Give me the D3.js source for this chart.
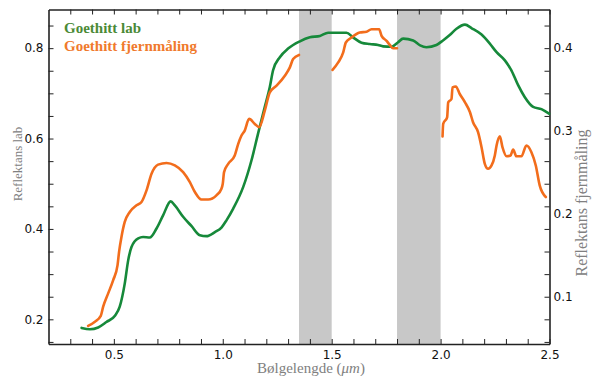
<!DOCTYPE html>
<html>
<head>
<meta charset="utf-8">
<script src="https://cdn.jsdelivr.net/npm/d3@7"></script>
<style>
  html, body { margin: 0; padding: 0; background: #fff; }
  svg { display: block; }
  .tick-lbl text { font-family: "DejaVu Sans", sans-serif; font-size: 12px; fill: #111; }
  .axis path, .axis line { stroke: #222; }
</style>
</head>
<body>
<svg id="chart" width="592" height="376"></svg>
<script>
// Goethite reflectance spectra: lab measurement (left axis) and remote sensing (right axis)
const labWavelength = [0.352,0.390,0.428,0.466,0.505,0.527,0.550,0.566,0.581,0.612,0.634,0.665,0.696,0.726,0.761,0.780,0.818,0.857,0.895,0.925,0.964,0.994,1.017,1.048,1.094,1.132,1.162,1.193,1.216,1.231,1.262,1.300,1.354,1.400,1.446,1.484,1.568,1.598,1.637,1.675,1.713,1.736,1.775,1.805,1.828,1.874,1.906,1.935,1.981,2.011,2.042,2.073,2.112,2.143,2.188,2.226,2.257,2.295,2.325,2.356,2.386,2.425,2.463,2.498];
const labReflectance = [0.181,0.178,0.182,0.194,0.208,0.228,0.279,0.331,0.360,0.379,0.382,0.381,0.401,0.430,0.461,0.452,0.427,0.406,0.386,0.384,0.393,0.403,0.419,0.445,0.493,0.552,0.611,0.670,0.714,0.751,0.780,0.799,0.815,0.824,0.827,0.834,0.834,0.824,0.812,0.809,0.807,0.804,0.803,0.813,0.821,0.817,0.806,0.802,0.807,0.817,0.829,0.843,0.852,0.844,0.830,0.810,0.791,0.773,0.751,0.718,0.692,0.670,0.665,0.655];

// Remote sensing spectrum; null marks the water absorption bands where no data is shown
const remoteWavelength = [0.382,0.413,0.440,0.451,0.474,0.497,0.517,0.524,0.535,0.550,0.573,0.604,0.627,0.650,0.673,0.703,0.742,0.780,0.818,0.849,0.872,0.902,0.933,0.971,0.994,1.000,1.006,1.025,1.055,1.071,1.086,1.101,1.121,1.147,1.167,1.193,1.216,1.247,1.285,1.308,1.323,1.350,
  1.42,
  1.504,1.530,1.553,1.565,1.591,1.629,1.660,1.683,1.718,1.729,1.752,1.767,1.782,1.800,
  1.90,
  2.009,2.012,2.030,2.035,2.050,2.055,2.070,2.088,2.112,2.135,2.149,2.172,2.188,2.203,2.218,2.234,2.249,2.257,2.272,2.284,2.303,2.321,2.333,2.348,2.371,2.394,2.417,2.437,2.455,2.483];
const remoteReflectance = [0.065,0.070,0.077,0.088,0.104,0.120,0.138,0.154,0.172,0.190,0.202,0.210,0.214,0.228,0.248,0.259,0.261,0.258,0.250,0.238,0.226,0.217,0.217,0.222,0.230,0.236,0.250,0.260,0.270,0.284,0.294,0.300,0.314,0.308,0.304,0.324,0.346,0.354,0.366,0.376,0.386,0.391,
  null,
  0.373,0.382,0.394,0.406,0.412,0.418,0.419,0.422,0.422,0.414,0.408,0.403,0.399,0.399,
  null,
  0.293,0.308,0.316,0.334,0.338,0.352,0.353,0.344,0.334,0.322,0.310,0.298,0.280,0.260,0.254,0.258,0.270,0.282,0.293,0.280,0.269,0.270,0.277,0.269,0.269,0.282,0.274,0.258,0.234,0.220];

// Shaded atmospheric absorption bands (µm)
const bandStart = [1.35, 1.80];
const bandEnd = [1.50, 2.00];

// Tick labels
const xTickLabels = [0.5, 1.0, 1.5, 2.0, 2.5];
const yLeftTickLabels = [0.2, 0.4, 0.6, 0.8];
const yRightTickLabels = [0.1, 0.2, 0.3, 0.4];

const seriesNames = ["Goethitt lab", "Goethitt fjernmåling"];
const seriesColors = ["#16893a", "#f26d1c"];
const legendColors = ["#4b8a36", "#f07a2c"];

const svg = d3.select("#chart");
const plotLeft = 48.5, plotRight = 549.5, plotTop = 9.5, plotBottom = 344;

const x = d3.scaleLinear().domain([0.2, 2.5]).range([plotLeft, plotRight]);
const yL = d3.scaleLinear().domain([0.1454, 0.8855]).range([plotBottom, plotTop]);
const yR = d3.scaleLinear().domain([0.0431, 0.4457]).range([plotBottom, plotTop]);

// absorption bands
svg.append("g").selectAll("rect")
  .data(bandStart.map((s, i) => [s, bandEnd[i]]))
  .join("rect")
  .attr("x", d => x(d[0]))
  .attr("width", d => x(d[1]) - x(d[0]))
  .attr("y", plotTop)
  .attr("height", plotBottom - plotTop)
  .attr("fill", "#c8c8c8");

// axes with inward ticks
const xMinor = d3.range(3, 26).map(v => +(v / 10).toFixed(1));
const yMinor = d3.range(3, 18).map(v => +(v * 0.05).toFixed(2));
const isMajor = (arr, v) => arr.some(a => Math.abs(a - v) < 1e-6);

svg.append("g").attr("class", "axis tick-lbl")
  .attr("transform", `translate(0,${plotBottom})`)
  .call(d3.axisBottom(x).tickValues(xMinor).tickSizeInner(-5).tickSizeOuter(0).tickPadding(6)
    .tickFormat(d => isMajor(xTickLabels, d) ? d3.format(".1f")(d) : ""))
  .call(g => g.select(".domain").attr("stroke-width", 1.6));

svg.append("g").attr("class", "axis")
  .attr("transform", `translate(0,${plotTop})`)
  .call(d3.axisTop(x).tickValues(xMinor).tickSizeInner(-5).tickSizeOuter(0).tickFormat(""))
  .call(g => g.select(".domain").attr("stroke-width", 1.6));

svg.append("g").attr("class", "axis tick-lbl")
  .attr("transform", `translate(${plotLeft},0)`)
  .call(d3.axisLeft(yL).tickValues(yMinor).tickSizeInner(-5).tickSizeOuter(0).tickPadding(5)
    .tickFormat(d => isMajor(yLeftTickLabels, d) ? d3.format(".1f")(d) : ""))
  .call(g => g.select(".domain").attr("stroke-width", 1.6));

svg.append("g").attr("class", "axis")
  .attr("transform", `translate(${plotRight},0)`)
  .call(d3.axisRight(yL).tickValues(yMinor).tickSizeInner(-5).tickSizeOuter(0).tickFormat(""))
  .call(g => g.select(".domain").attr("stroke-width", 1.6));

svg.append("g").attr("class", "tick-lbl")
  .attr("transform", `translate(${plotRight},0)`)
  .call(d3.axisRight(yR).tickValues(yRightTickLabels).tickSize(0).tickPadding(4).tickFormat(d3.format(".1f")))
  .call(g => g.select(".domain").remove());

// spectra
const labLine = d3.line()
  .x((d, i) => x(labWavelength[i]))
  .y(d => yL(d))
  .curve(d3.curveMonotoneX);

svg.append("path")
  .attr("d", labLine(labReflectance))
  .attr("fill", "none")
  .attr("stroke", seriesColors[0])
  .attr("stroke-width", 2.6)
  .attr("stroke-linejoin", "round")
  .attr("stroke-linecap", "round");

const remoteLine = d3.line()
  .defined(d => d !== null)
  .x((d, i) => x(remoteWavelength[i]))
  .y(d => yR(d))
  .curve(d3.curveMonotoneX);

svg.append("path")
  .attr("d", remoteLine(remoteReflectance))
  .attr("fill", "none")
  .attr("stroke", seriesColors[1])
  .attr("stroke-width", 2.6)
  .attr("stroke-linejoin", "round")
  .attr("stroke-linecap", "round");

// legend
svg.append("g").selectAll("text")
  .data(seriesNames)
  .join("text")
  .attr("x", 64)
  .attr("y", (d, i) => 33 + i * 18)
  .attr("fill", (d, i) => legendColors[i])
  .attr("font-family", "'Liberation Serif', 'Times New Roman', serif")
  .attr("font-weight", "bold")
  .attr("font-size", 15)
  .text(d => d);

// axis titles
const titleFont = "'Liberation Serif', 'Times New Roman', serif";
const xTitle = svg.append("text")
  .attr("x", 311).attr("y", 373)
  .attr("text-anchor", "middle")
  .attr("font-family", titleFont).attr("font-size", 15).attr("fill", "#808080");
xTitle.append("tspan").text("Bølgelengde (");
xTitle.append("tspan").attr("font-style", "italic").text("μm");
xTitle.append("tspan").text(")");

svg.append("text")
  .attr("transform", "translate(22,164) rotate(-90)")
  .attr("text-anchor", "middle")
  .attr("font-family", titleFont).attr("font-size", 13).attr("fill", "#808080")
  .text("Reflektans lab");

svg.append("text")
  .attr("transform", "translate(587,203) rotate(-90)")
  .attr("text-anchor", "middle")
  .attr("font-family", titleFont).attr("font-size", 16).attr("fill", "#808080")
  .text("Reflektans fjernmåling");
</script>
</body>
</html>
